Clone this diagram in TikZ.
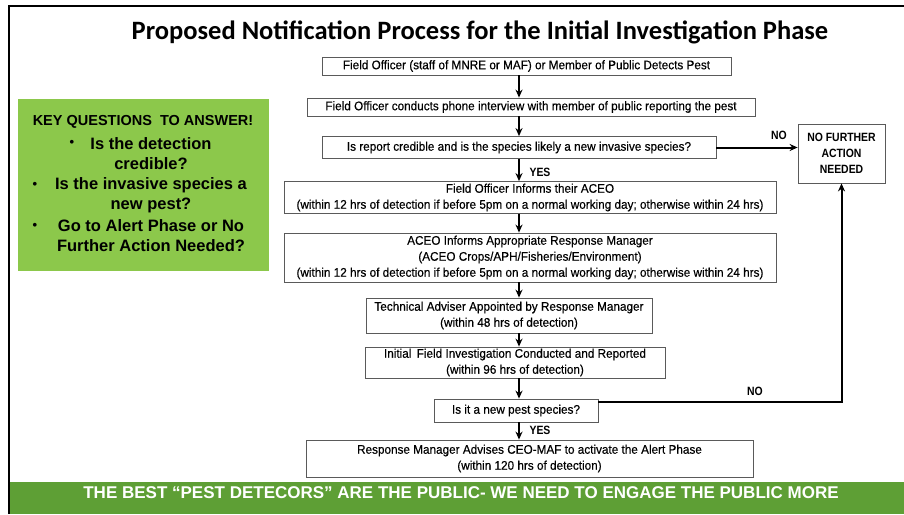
\documentclass[tikz,border=0pt]{standalone}
\usepackage{fontspec}
\setmainfont{Liberation Sans}
\newfontfamily\boxfont[FakeStretch=0.94,FakeBold=0.35]{Liberation Sans}
\newfontfamily\lblfont[FakeStretch=0.87]{Liberation Sans}
\newfontfamily\titlefont{Carlito}
\usetikzlibrary{arrows.meta}
\definecolor{keyg}{HTML}{8CC84B}
\definecolor{barg}{HTML}{5E9F35}
\definecolor{boxline}{HTML}{5A5A5A}
\tikzset{
  pbox/.style={draw=boxline, line width=0.8pt, fill=white, inner sep=1pt, align=center,
    font=\boxfont\fontsize{12.5}{16}\selectfont},
  arr/.style={line width=1.4pt, -{Stealth[length=8pt,width=7pt]}},
  noarr/.style={line width=2pt, -{Stealth[length=8pt,width=7pt]}},
  lbl/.style={font=\lblfont\bfseries\fontsize{12}{14}\selectfont, inner sep=0pt},
  bul/.style={font=\bfseries\fontsize{16.5}{20.5}\selectfont, inner sep=0pt, align=center},
  bdot/.style={font=\bfseries\fontsize{13}{14}\selectfont, inner sep=0pt}
}
\begin{document}
\begin{tikzpicture}[x=1pt,y=-1pt]
\useasboundingbox (0,0) rectangle (904,514);
% frame
\draw[line width=2.5pt] (9,514) -- (9,6) -- (904,6);
% title
\node[font=\titlefont\bfseries\fontsize{26.5}{30}\selectfont, inner sep=0pt] (title) at (480,32)
  {Proposed Notification Process for the Initial Investigation Phase};
% key box
\node[fill=keyg, minimum width=251pt, minimum height=172pt, inner sep=0pt] (key) at (143.5,185) {};
\node[font=\bfseries\fontsize{14.5}{16}\selectfont, inner sep=0pt] (keyhead) at (143,122) {KEY QUESTIONS\ \ TO ANSWER!};
\node[bdot] (k1b) at (72,143) {•};
\node[bul] (k1) at (151,153.5) {Is the detection\\credible?};
\node[bdot] (k2b) at (35,185) {•};
\node[bul] (k2) at (151,195) {Is the invasive species a\\new pest?};
\node[bdot] (k3b) at (35,226) {•};
\node[bul] (k3) at (151,235.5) {Go to Alert Phase or No\\Further Action Needed?};
% process boxes
\node[pbox, minimum width=409pt, minimum height=18pt] (b1) at (526.5,66)
  {Field Officer (staff of MNRE or MAF) or Member of Public Detects Pest};
\node[pbox, minimum width=448pt, minimum height=18pt] (b2) at (531,107)
  {Field Officer conducts phone interview with member of public reporting the pest};
\node[pbox, minimum width=394pt, minimum height=22pt] (b3) at (519,147.5)
  {Is report credible and is the species likely a new invasive species?};
\node[pbox, minimum width=492pt, minimum height=32pt] (b4) at (530,197.5)
  {Field Officer Informs their ACEO\\(within 12 hrs of detection if before 5pm on a normal working day; otherwise within 24 hrs)};
\node[pbox, minimum width=492pt, minimum height=49pt] (b5) at (530,257.5)
  {ACEO Informs Appropriate Response Manager\\(ACEO Crops/APH/Fisheries/Environment)\\(within 12 hrs of detection if before 5pm on a normal working day; otherwise within 24 hrs)};
\node[pbox, minimum width=286pt, minimum height=35pt] (b6) at (509,315.5)
  {Technical Adviser Appointed by Response Manager\\(within 48 hrs of detection)};
\node[pbox, minimum width=300pt, minimum height=31pt] (b7) at (515,362.5)
  {Initial\ \,Field Investigation Conducted and Reported\\(within 96 hrs of detection)};
\node[pbox, minimum width=164pt, minimum height=23pt] (b8) at (516,410.5)
  {Is it a new pest species?};
\node[pbox, minimum width=447pt, minimum height=37pt] (b9) at (529.5,458.5)
  {Response Manager Advises CEO-MAF to activate the Alert Phase\\(within 120 hrs of detection)};
\node[pbox, font=\lblfont\bfseries\fontsize{12}{16}\selectfont, minimum width=87pt, minimum height=59pt] (nfa) at (841.5,153.5)
  {NO FURTHER\\ACTION\\NEEDED};
% connectors
\coordinate (ax) at (519,0);
\draw[arr] (b1.south -| ax) -- (b2.north -| ax);
\draw[arr] (b2.south -| ax) -- (b3.north -| ax);
\draw[arr] (b3.south -| ax) -- (b4.north -| ax);
\draw[arr] (b4.south -| ax) -- (b5.north -| ax);
\draw[arr] (b5.south -| ax) -- (b6.north -| ax);
\draw[arr] (b6.south -| ax) -- (b7.north -| ax);
\draw[arr] (b7.south -| ax) -- (b8.north -| ax);
\draw[arr] (b8.south -| ax) -- (b9.north -| ax);
\draw[noarr] (b3.east) -- (b3.east -| nfa.west);
\draw[noarr] ([yshift=8.5pt]b8.east) -| (nfa.south);
% labels
\node[lbl] (yes1) at (540,172) {YES};
\node[lbl] (yes2) at (540,430) {YES};
\node[lbl] (no1) at (779,135) {NO};
\node[lbl] (no2) at (755,391) {NO};
% bottom bar
\fill[barg] (10,482) rectangle (904,514);
\node[font=\bfseries\fontsize{17}{20}\selectfont, text=white, inner sep=0pt] (bar) at (461,493)
  {THE BEST “PEST DETECORS” ARE THE PUBLIC- WE NEED TO ENGAGE THE PUBLIC MORE};
\end{tikzpicture}
\end{document}
